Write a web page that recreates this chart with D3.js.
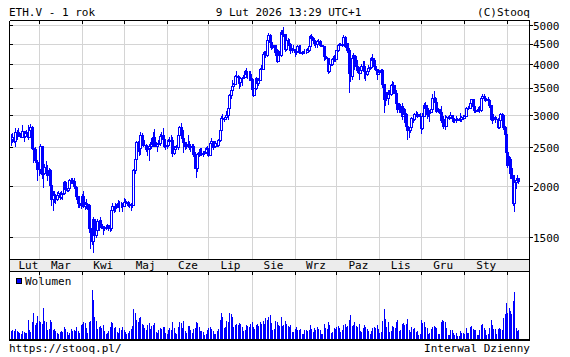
<!DOCTYPE html>
<html><head><meta charset="utf-8">
<script src="https://cdn.jsdelivr.net/npm/d3@7"></script>
<style>
body{margin:0;background:#fff}
svg{display:block}
text{font-family:"DejaVu Sans Mono",monospace;font-size:11px;fill:#000}
</style>
</head><body>
<svg id="c" width="570" height="357"></svg>
<script>
// ---- DATA (ETH.V daily, 2025-02-09 .. 2026-02-09) ----
const startDate = "2025-02-09";
const firstOpen = 2630;
const closes = [
// Feb 2025
2630,2660,2600,2740,2680,2725,2690,2660,2745,2670,2715,2740,2660,2765,2815,2500,2485,2335,2305,2215,
// Mar
2220,2520,2150,2170,2240,2200,2140,2200,2020,1865,1920,1910,1865,1910,1935,1890,1925,1930,2055,1980,1965,1985,2085,2080,2070,2010,2000,1895,1830,1805,1820,
// Apr
1905,1795,1815,1815,1805,1580,1555,1475,1670,1520,1570,1645,1595,1625,1590,1580,1585,1590,1615,1585,1580,1755,1795,1770,1785,1820,1795,1795,1800,1795,
// May
1840,1840,1835,1810,1815,1815,1810,2205,2345,2580,2515,2495,2680,2610,2545,2545,2475,2495,2525,2525,2550,2660,2530,2530,2550,2565,2665,2680,2630,2530,2530,
// Jun
2540,2605,2595,2610,2420,2480,2525,2510,2680,2815,2770,2645,2580,2525,2545,2550,2510,2520,2525,2410,2230,2230,2410,2445,2420,2415,2425,2435,2500,2485,
// Jul
2405,2570,2590,2515,2520,2570,2540,2610,2770,2955,2960,2945,2975,3015,3140,3370,3475,3545,3595,3755,3760,3745,3630,3710,3715,3745,3870,3795,3800,3810,3700,
// Aug
3485,3380,3500,3720,3610,3680,3910,3920,4260,4255,4225,4600,4750,4550,4440,4420,4470,4310,4090,4335,4240,4830,4780,4780,4380,4600,4510,4505,4365,4375,4390,
// Sep
4305,4330,4450,4295,4305,4275,4305,4310,4305,4350,4460,4715,4665,4605,4520,4500,4590,4590,4475,4485,4450,4200,4165,4150,3870,4030,4015,4140,4215,4145,
// Oct
4350,4485,4515,4485,4515,4685,4455,4530,4365,3830,3750,4155,4245,4125,3985,3890,3830,3890,3985,3980,3875,3805,3855,3935,3955,4160,4120,3980,3905,3810,3850,
// Nov
3870,3890,3600,3290,3420,3310,3440,3400,3575,3570,3440,3415,3230,3120,3170,3070,3000,3115,3025,2835,2770,2765,2805,2955,2950,3025,3025,3030,2990,2990,
// Dec
2800,2995,3195,3135,3020,3045,3060,3115,3320,3325,3235,3085,3115,3060,2930,2950,2825,2835,2975,2980,2980,3005,2965,2945,2935,2930,2945,2945,2935,2970,2965,
// Jan 2026
3000,3125,3125,3140,3225,3295,3160,3105,3085,3085,3120,3090,3325,3355,3315,3300,3305,3285,3190,2945,2980,2950,2950,2950,2810,2920,3020,3005,2815,2700,2440,
// Feb 2026
2270,2345,2230,2140,1825,2060,2085,2110,2070
];
const highs = [
2695,2710,2720,2790,2760,2795,2735,2720,2850,2755,2740,2770,2845,2790,2855,2825,2530,2515,2370,2325,
2270,2550,2520,2210,2285,2320,2260,2225,2210,2150,1960,1950,1925,1940,1950,1940,1950,1935,2070,2070,1990,2010,2090,2105,2100,2100,2045,2010,1900,1860,1865,
1925,1955,1840,1865,1825,1820,1640,1620,1690,1670,1600,1665,1660,1690,1660,1605,1600,1600,1620,1615,1660,1785,1830,1800,1825,1830,1860,1845,1840,1830,
1875,1865,1850,1845,1830,1825,1840,2215,2390,2590,2600,2620,2740,2715,2640,2615,2555,2530,2555,2585,2645,2735,2785,2580,2560,2605,2700,2730,2790,2680,2555,
2545,2620,2660,2680,2660,2525,2530,2535,2685,2830,2880,2790,2645,2585,2555,2680,2600,2545,2550,2550,2440,2290,2430,2485,2490,2500,2455,2450,2510,2525,
2495,2590,2635,2600,2540,2590,2595,2620,2780,2990,3020,2975,3000,3080,3155,3400,3520,3680,3620,3775,3860,3780,3760,3745,3740,3785,3880,3940,3875,3860,3870,
3710,3500,3510,3735,3725,3695,3935,4010,4300,4330,4330,4620,4790,4775,4680,4470,4490,4470,4380,4355,4340,4885,4880,4955,4780,4620,4660,4630,4535,4400,4490,
4390,4365,4480,4490,4490,4320,4335,4380,4385,4400,4480,4745,4770,4680,4665,4530,4600,4635,4600,4495,4490,4450,4210,4190,4170,4040,4045,4150,4230,4220,
4360,4510,4540,4530,4590,4755,4715,4535,4530,4395,3870,4175,4290,4200,4200,4080,3950,3930,4030,4080,4090,3900,3920,3990,3975,4175,4250,4160,4030,3920,3900,
3890,3920,3915,3600,3470,3440,3460,3460,3590,3660,3630,3560,3460,3240,3230,3210,3220,3160,3140,3050,2850,2790,2860,2970,2960,3050,3080,3060,3030,3050,
3000,3040,3215,3240,3190,3065,3100,3170,3390,3445,3330,3275,3140,3120,3175,2975,3000,3005,2990,2995,3000,3060,3010,2970,2960,3000,2960,2960,3050,2995,3010,
3010,3150,3140,3160,3260,3305,3295,3160,3140,3100,3145,3160,3335,3400,3385,3325,3320,3340,3290,3195,3030,3020,2990,2970,2960,2950,3040,3050,3010,2830,2720,
2460,2390,2370,2270,2145,2090,2110,2145,2110
];
const lows = [
2545,2580,2580,2520,2630,2670,2665,2650,2660,2600,2660,2700,2620,2655,2745,2490,2310,2300,2280,2075,
2140,2170,2100,1995,2150,2170,2080,2130,2000,1810,1755,1840,1830,1860,1900,1870,1880,1870,1920,1965,1950,1960,1980,2040,2050,1990,1985,1870,1785,1780,1770,
1815,1780,1760,1775,1765,1545,1410,1450,1385,1470,1505,1545,1570,1595,1580,1535,1565,1575,1585,1565,1560,1570,1745,1735,1745,1780,1785,1745,1785,1740,
1795,1825,1825,1800,1785,1755,1780,1805,2160,2340,2455,2395,2410,2555,2520,2535,2450,2405,2335,2480,2500,2545,2525,2520,2460,2545,2535,2585,2600,2510,2480,
2490,2520,2585,2590,2385,2410,2475,2495,2480,2670,2755,2625,2445,2480,2500,2520,2480,2460,2495,2390,2225,2115,2190,2380,2400,2400,2380,2420,2425,2445,
2385,2400,2560,2485,2505,2505,2520,2520,2600,2760,2935,2910,2940,2950,2950,3125,3310,3435,3535,3580,3700,3620,3510,3540,3560,3705,3730,3780,3720,3680,3680,
3460,3355,3370,3490,3570,3565,3670,3870,3900,4150,4180,4210,4590,4460,4380,4400,4380,4225,4060,4090,4200,4210,4720,4720,4340,4360,4480,4465,4270,4310,4370,
4210,4265,4300,4270,4270,4265,4270,4290,4280,4300,4340,4440,4640,4580,4480,4440,4420,4545,4455,4460,4445,4110,4130,4100,3825,3850,3990,3990,4090,4100,
4140,4340,4410,4470,4460,4500,4440,4395,4300,3435,3650,3700,4090,3900,3940,3840,3690,3835,3870,3930,3710,3680,3780,3855,3915,3940,4110,3920,3890,3700,3800,
3835,3830,3530,3060,3180,3280,3210,3350,3380,3530,3410,3380,3130,3060,3110,3070,2950,2990,2900,2810,2620,2660,2740,2780,2890,2920,2990,2980,2985,2985,
2720,2775,2985,3100,2960,2990,2915,3060,3085,3310,3150,3070,3075,3050,2890,2890,2800,2780,2830,2960,2950,2960,2910,2900,2900,2890,2925,2930,2910,2915,2950,
2955,2990,3085,3110,3130,3185,3130,3060,3060,3075,3075,3070,3080,3310,3270,3260,3280,3270,3150,2930,2880,2920,2890,2935,2800,2790,2900,2980,2780,2680,2390,
2240,2170,2110,2110,1810,1740,1990,2060,2040
];
// volume, relative units
const volumes = [
8,9,8,10,8,7,6,5,8,7,6,6,19,9,7,17,26,14,16,23,
18,17,15,31,18,17,9,10,19,17,9,10,8,6,5,7,8,7,12,10,7,4,6,10,8,9,8,12,8,6,14,
15,17,16,11,6,17,18,49,39,22,18,10,12,13,11,14,8,5,6,8,12,17,16,11,12,7,6,11,9,12,
9,7,5,6,8,10,13,30,26,19,17,21,22,15,14,11,9,14,16,10,13,14,16,7,6,9,11,10,12,12,6,
5,9,11,9,17,11,6,5,12,17,16,11,18,8,6,13,13,9,6,10,11,17,16,12,8,8,7,4,5,9,
11,12,10,8,5,5,8,10,19,26,22,11,12,18,17,26,25,22,12,14,15,14,16,15,12,8,9,14,13,12,15,
17,12,10,14,15,13,17,15,18,15,21,19,22,24,16,9,10,18,17,14,13,22,13,14,18,15,13,12,14,7,7,
10,12,9,9,10,5,5,9,9,8,9,14,10,7,11,9,12,10,9,5,5,15,11,10,17,14,6,7,11,10,
12,13,11,7,9,14,15,12,13,19,24,13,14,17,13,12,15,8,7,11,14,12,10,8,5,8,11,12,11,14,10,
6,7,18,30,20,12,17,7,8,13,12,11,17,19,8,9,15,16,14,15,20,9,7,12,10,11,7,8,4,5,
19,16,17,12,11,5,6,10,12,13,12,11,5,5,17,19,18,17,11,4,4,9,9,6,4,6,3,3,8,6,6,
5,11,6,6,12,13,10,9,9,4,4,9,14,15,11,9,4,5,11,19,14,10,10,5,10,11,10,9,21,25,36,
26,31,28,25,38,47,11,8,9
];
const priceTicks = [1500, 2000, 2500, 3000, 3500, 4000, 4500, 5000];
const monthLabels = ["Lut","Mar","Kwi","Maj","Cze","Lip","Sie","Wrz","Paz","Lis","Gru","Sty"];
const titleText = "ETH.V - 1 rok";
const dateText = "9 Lut 2026 13:29 UTC+1";
const copyText = "(C)Stooq";
const legendText = "Wolumen";
const footLeft = "https://stooq.pl/";
const footRight = "Interwal Dzienny";

// ---- LAYOUT ----
const BLUE = "#0000ff", GRID = "#d4d4d4";
const L = 9.5, R = 529.5, T = 20.5, B = 259.5, BAND_B = 271.5, VB = 340;
const parse = d3.utcParse("%Y-%m-%d");
const t0 = parse(startDate);
const n = closes.length;
const data = d3.range(n).map(i => {
  const o = i ? closes[i - 1] : firstOpen, c = closes[i];
  return { d: d3.utcDay.offset(t0, i), o, c,
    h: Math.max(highs[i], o, c), l: Math.min(lows[i], o, c), v: volumes[i] };
});
const x = d3.scaleUtc().domain([parse("2025-03-01"), parse("2026-02-01")]).range([39.3, 507.8]);
const y = d3.scaleLog().domain([1500, 5000]).range([237.6, 25.7]);
const yv = d3.scaleLinear().domain([0, d3.max(volumes)]).range([339, 290]);

const svg = d3.select("#c").attr("shape-rendering", "crispEdges");
svg.append("rect").attr("width", 570).attr("height", 357).attr("fill", "#fff");

const monthStarts = d3.utcMonth.range(parse("2025-03-01"), parse("2026-02-02"));
const gx = d => Math.floor(x(d)) + 0.5;

// gridlines
const grid = svg.append("g").attr("stroke", GRID).attr("stroke-width", 1);
grid.selectAll("line.h").data(priceTicks).join("line")
  .attr("x1", L).attr("x2", R).attr("y1", d => Math.floor(y(d)) + 0.5).attr("y2", d => Math.floor(y(d)) + 0.5);
grid.selectAll("line.v").data(monthStarts).join("line")
  .attr("x1", gx).attr("x2", gx).attr("y1", T).attr("y2", B);
grid.selectAll("line.vv").data(monthStarts).join("line").attr("class", "vv")
  .attr("x1", gx).attr("x2", gx).attr("y1", BAND_B).attr("y2", VB - 1);

// band
svg.append("rect").attr("x", L).attr("y", B).attr("width", R - L).attr("height", BAND_B - B)
  .attr("fill", "#ececec").attr("stroke", "#000");

// candles
svg.append("clipPath").attr("id", "pc").append("rect").attr("x", 10).attr("y", 21).attr("width", 519).attr("height", 238);
const cg = svg.append("g").attr("clip-path", "url(#pc)");
const cand = cg.selectAll("g").data(data).join("g");
cand.append("line")
  .attr("x1", d => Math.floor(x(d.d)) + 0.5).attr("x2", d => Math.floor(x(d.d)) + 0.5)
  .attr("y1", d => Math.round(y(d.h))).attr("y2", d => Math.round(y(d.l)) + 1)
  .attr("stroke", BLUE);
cand.append("rect")
  .attr("x", d => Math.floor(x(d.d)) - 0.5)
  .attr("y", d => Math.round(y(Math.max(d.o, d.c))) + 0.5)
  .attr("width", 2)
  .attr("height", d => Math.max(0, Math.round(y(Math.min(d.o, d.c))) - Math.round(y(Math.max(d.o, d.c)))))
  .attr("fill", d => d.c >= d.o ? "#fff" : BLUE)
  .attr("stroke", BLUE);

// volume bars
svg.append("g").selectAll("rect").data(data).join("rect")
  .attr("x", d => Math.floor(x(d.d)))
  .attr("y", d => Math.round(yv(d.v)))
  .attr("width", 1)
  .attr("height", d => 339 - Math.round(yv(d.v)))
  .attr("fill", BLUE);

// frame
const fr = svg.append("g").attr("stroke", "#000");
fr.append("line").attr("x1", L).attr("x2", R).attr("y1", T).attr("y2", T);
fr.append("line").attr("x1", L).attr("x2", L).attr("y1", T).attr("y2", VB);
fr.append("line").attr("x1", R).attr("x2", R).attr("y1", T).attr("y2", VB);
fr.append("line").attr("x1", L - 0.5).attr("x2", R + 0.5).attr("y1", VB).attr("y2", VB).attr("stroke-width", 2);
// ticks
fr.selectAll("line.tt").data(monthStarts).join("line").attr("class", "tt")
  .attr("x1", gx).attr("x2", gx).attr("y1", T).attr("y2", T + 3);
fr.selectAll("line.tb").data(monthStarts).join("line").attr("class", "tb")
  .attr("x1", gx).attr("x2", gx).attr("y1", BAND_B).attr("y2", BAND_B + 3);
fr.selectAll("line.tl").data(priceTicks).join("line").attr("class", "tl")
  .attr("x1", L).attr("x2", L + 3).attr("y1", d => Math.floor(y(d)) + 0.5).attr("y2", d => Math.floor(y(d)) + 0.5);
fr.selectAll("line.tr").data(priceTicks).join("line").attr("class", "tr")
  .attr("x1", R).attr("x2", R + 3).attr("y1", d => Math.floor(y(d)) + 0.5).attr("y2", d => Math.floor(y(d)) + 0.5);

// texts
const tx = svg.append("g").attr("shape-rendering", "auto");
tx.append("text").attr("x", 9).attr("y", 16).text(titleText);
tx.append("text").attr("x", 288.5).attr("y", 16).attr("text-anchor", "middle").text(dateText);
tx.append("text").attr("x", 530).attr("y", 16).attr("text-anchor", "end").text(copyText);
tx.selectAll("text.yl").data(priceTicks).join("text").attr("class", "yl")
  .attr("x", 533).attr("y", d => y(d) + 4).text(d => d);
const labelStarts = [t0].concat(monthStarts.slice(0, 11));
tx.selectAll("text.ml").data(monthLabels).join("text").attr("class", "ml")
  .attr("x", (d, i) => (x(labelStarts[i]) + x(monthStarts[i])) / 2 + (i === 0 ? 3 : 0))
  .attr("y", 269).attr("text-anchor", "middle").text(d => d);
svg.append("rect").attr("x", 16.5).attr("y", 278.5).attr("width", 5).attr("height", 5)
  .attr("fill", BLUE).attr("stroke", "#000");
tx.append("text").attr("x", 25).attr("y", 285).text(legendText);
tx.append("text").attr("x", 9).attr("y", 352).text(footLeft);
tx.append("text").attr("x", 530).attr("y", 352).attr("text-anchor", "end").text(footRight);
</script>
</body></html>
